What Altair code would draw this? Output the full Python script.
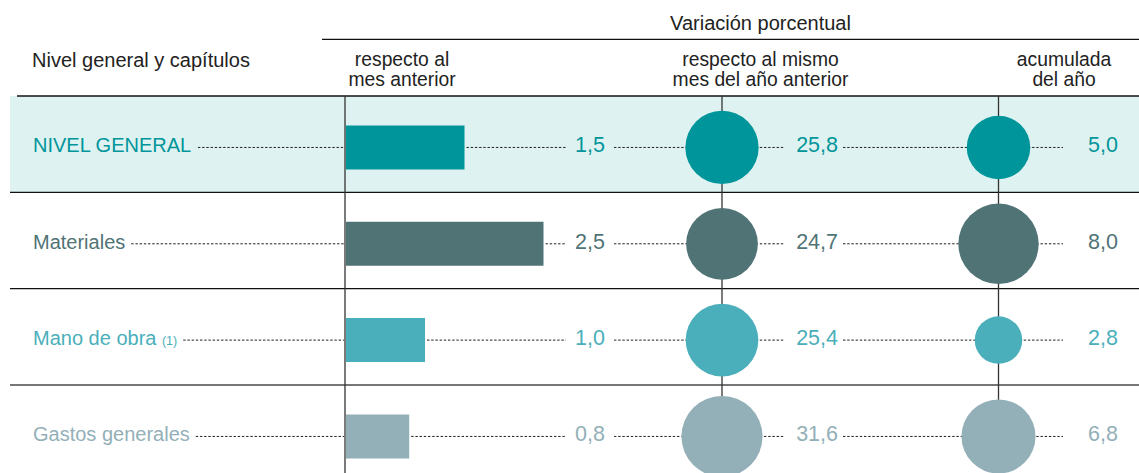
import altair as alt
import pandas as pd

# ---------------- data ----------------
names = ["NIVEL GENERAL", "Materiales", "Mano de obra", "Gastos generales"]
notes = ["", "", "(1)", ""]
mes = [1.5, 2.5, 1.0, 0.8]          # respecto al mes anterior
anual = [25.8, 24.7, 25.4, 31.6]    # respecto al mismo mes del año anterior
acum = [5.0, 8.0, 2.8, 6.8]         # acumulada del año
colors = ["#00959a", "#507376", "#4aafba", "#93afb8"]

header_top = "Variación porcentual"
header_left = "Nivel general y capítulos"
col_heads = [["respecto al", "mes anterior"],
             ["respecto al mismo", "mes del año anterior"],
             ["acumulada", "del año"]]

# ---------------- layout ----------------
W, H = 1139, 473
FONT = "Liberation Sans"
FS_LABEL, FS_VAL, FS_NOTE, FS_HEAD, FS_SUB = 20, 21.5, 12.5, 20, 19.3
LABEL_X = 33
CY = 3.3          # content offset inside row band
TY = 8.3          # text baseline offset inside row band
DASH = [2.4, 1.8]

AW = {' ': 278, 'A': 667, 'E': 667, 'G': 778, 'I': 278, 'L': 556, 'M': 833,
      'N': 722, 'R': 722, 'V': 667, 'a': 556, 'b': 556, 'd': 556, 'e': 556,
      'g': 556, 'i': 222, 'l': 222, 'n': 556, 'o': 556, 'r': 333, 's': 500,
      't': 278, '(': 333, ')': 333, '1': 556}


def tw(s, fs):
    return sum(AW.get(c, 556) for c in s) / 1000 * fs


def fmt(v):
    return f"{v:.1f}".replace(".", ",")


df = pd.DataFrame({"name": names, "note": notes, "mes": mes,
                   "anual": anual, "acum": acum})
df["mes_t"] = df["mes"].map(fmt)
df["anual_t"] = df["anual"].map(fmt)
df["acum_t"] = df["acum"].map(fmt)
df["note_x"] = [LABEL_X + tw(n + " ", FS_LABEL) for n in names]
df["lead_x"] = [LABEL_X + tw(n, FS_LABEL) + (tw(" ", FS_LABEL) + tw(nt, FS_NOTE) if nt else 0) + 6
                for n, nt in zip(names, notes)]

one = pd.DataFrame({"k": [0]})

ident = alt.Scale(domain=[0, W], range=[0, W])
yscale = alt.Scale(domain=names, range=[96, 481.3], paddingInner=0, paddingOuter=0)
Y = alt.Y("name:N", scale=yscale, axis=None)
Ytop = alt.Y("name:N", scale=yscale, axis=None, bandPosition=0)
C = alt.Color("name:N", scale=alt.Scale(domain=names, range=colors), legend=None)
barx = alt.Scale(domain=[0, 3], range=[346, 583])

base = alt.Chart(df)
layers = []

# shaded first row
layers.append(base.transform_filter(alt.datum.name == names[0]).mark_rect(color="#def2f1").encode(
    y=Y, x=alt.value(10), x2=alt.value(W)))

# row separators
layers.append(base.transform_filter(alt.datum.name == names[0]).mark_rule(color="#111", strokeWidth=1.3).encode(
    y=Ytop, x=alt.value(17), x2=alt.value(W)))
layers.append(base.transform_filter(
    (alt.datum.name == names[1]) | (alt.datum.name == names[2])).mark_rule(color="#111", strokeWidth=1.3).encode(
    y=Ytop, x=alt.value(10), x2=alt.value(W)))
layers.append(base.transform_filter(alt.datum.name == names[3]).mark_rule(color="#777", strokeWidth=2).encode(
    y=Ytop, x=alt.value(10), x2=alt.value(W)))

# header rule
layers.append(alt.Chart(one).mark_rule(color="#111", strokeWidth=1.3).encode(
    x=alt.value(322), x2=alt.value(W), y=alt.value(39.3)))

# vertical rules
for vx in [345, 722, 998.5]:
    layers.append(alt.Chart(one).mark_rule(color="#333", strokeWidth=1.3).encode(
        x=alt.value(vx), y=alt.value(96), y2=alt.value(H)))

# leaders: label -> bar
layers.append(base.mark_rule(color="#222", strokeWidth=1, strokeDash=DASH, yOffset=CY).encode(
    y=Y, x=alt.X("lead_x:Q", scale=ident, axis=None), x2=alt.value(344)))
# bar -> value
layers.append(base.mark_rule(color="#222", strokeWidth=1, strokeDash=DASH, yOffset=CY, xOffset=2).encode(
    y=Y, x=alt.X("mes:Q", scale=barx, axis=None), x2=alt.value(566)))
# fixed leaders
for a, b in [(614, 722), (722, 785), (843, 998.5), (998.5, 1063)]:
    layers.append(base.mark_rule(color="#222", strokeWidth=1, strokeDash=DASH, yOffset=CY).encode(
        y=Y, x=alt.value(a), x2=alt.value(b)))

# bars
layers.append(base.mark_bar(height=44, yOffset=CY).encode(
    y=Y, x=alt.X("mes:Q", scale=barx, axis=None), color=C))

# circles (symbol size = bounding-box area, area proportional to value)
layers.append(base.mark_circle(opacity=1, yOffset=CY).encode(
    y=Y, x=alt.value(722), color=C,
    size=alt.Size("anual:Q", scale=alt.Scale(type="linear", domain=[0, 40], range=[0, 8328]), legend=None)))
layers.append(base.mark_circle(opacity=1, yOffset=CY).encode(
    y=Y, x=alt.value(998.5), color=C,
    size=alt.Size("acum:Q", scale=alt.Scale(type="linear", domain=[0, 10], range=[0, 8066]), legend=None)))

# row labels
layers.append(base.mark_text(align="left", baseline="alphabetic", font=FONT, fontSize=FS_LABEL, yOffset=TY).encode(
    y=Y, x=alt.value(LABEL_X), text="name:N", color=C))
layers.append(base.transform_filter(alt.datum.note != "").mark_text(
    align="left", baseline="alphabetic", font=FONT, fontSize=FS_NOTE, yOffset=TY).encode(
    y=Y, x=alt.X("note_x:Q", scale=ident, axis=None), text="note:N", color=C))

# values
for fld, xr in [("mes_t", 605), ("anual_t", 838), ("acum_t", 1118)]:
    layers.append(base.mark_text(align="right", baseline="alphabetic", font=FONT, fontSize=FS_VAL, yOffset=TY).encode(
        y=Y, x=alt.value(xr), text=f"{fld}:N", color=C))

# headers
hdr = dict(baseline="alphabetic", font=FONT, color="#222")
layers.append(alt.Chart(one).mark_text(align="center", text=header_top, fontSize=FS_HEAD, **hdr).encode(
    x=alt.value(760.5), y=alt.value(30)))
layers.append(alt.Chart(one).mark_text(align="left", text=header_left, fontSize=FS_HEAD, **hdr).encode(
    x=alt.value(32), y=alt.value(66.5)))
for lines, cx in zip(col_heads, [402, 760.5, 1064]):
    layers.append(alt.Chart(one).mark_text(align="center", text=lines, fontSize=FS_SUB,
                                           lineHeight=19.5, **hdr).encode(
        x=alt.value(cx), y=alt.value(66.3)))

chart = alt.layer(*layers).resolve_scale(x="independent", size="independent").properties(
    width=W, height=H, padding=0, autosize=alt.AutoSizeParams(type="none"),
    background="white"
).configure_view(stroke=None)

chart.save("out.html", embed_options={"renderer": "svg", "actions": False})
